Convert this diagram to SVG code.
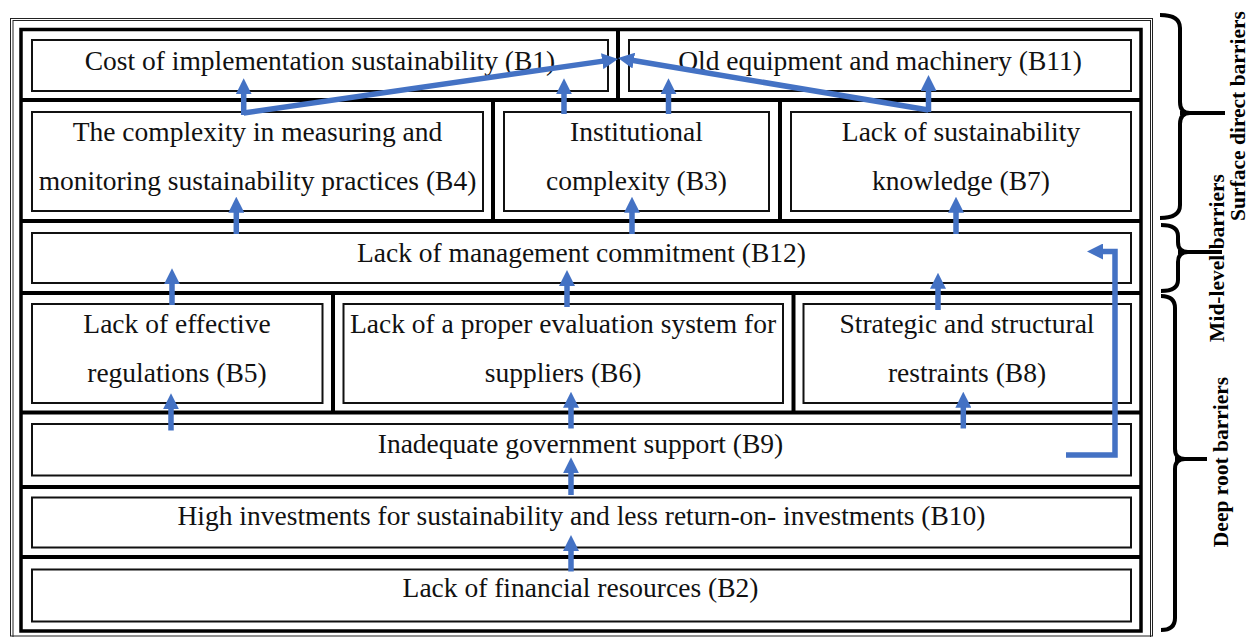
<svg xmlns="http://www.w3.org/2000/svg" width="1249" height="637" viewBox="0 0 1249 637">
  <style>
    .frame-thin { fill: none; stroke: #222; stroke-width: 1; }
    .frame-thick { fill: none; stroke: #000; stroke-width: 3.5; }
    .divider { stroke: #000; stroke-width: 4; }
    .box { fill: #fff; stroke: #111; stroke-width: 2; }
    .label { font-family: "Liberation Serif", "Times New Roman", serif; font-size: 27.5px; fill: #111; text-anchor: middle; }
    .tier { font-family: "Liberation Serif", "Times New Roman", serif; font-size: 21.5px; font-weight: bold; fill: #000; text-anchor: middle; }
    .brace { fill: none; stroke: #000; stroke-width: 4; stroke-linejoin: round; }
    .link { fill: none; stroke: #4472C4; stroke-width: 5.5; stroke-linejoin: miter; marker-end: url(#ah); }
  </style>
  <defs>
    <marker id="ah" markerUnits="userSpaceOnUse" markerWidth="16" markerHeight="16" viewBox="0 0 16 16" refX="8" refY="8" orient="auto">
      <path d="M0,0 L16,8 L0,16 z" fill="#4472C4"/>
    </marker>
  </defs>

  <rect width="1249" height="637" fill="#fff"/>

  <!-- outer double frame and heavy inner frame -->
  <g id="frame">
    <rect class="frame-thin" x="10.5" y="18.5" width="1142" height="617.5"/>
    <rect class="frame-thin" x="13" y="20.5" width="1137.5" height="620"/>
    <rect class="frame-thick" x="21" y="29.5" width="1120" height="601.5"/>
    <line class="divider" x1="21" y1="100" x2="1141" y2="100"/>
    <line class="divider" x1="21" y1="221" x2="1141" y2="221"/>
    <line class="divider" x1="21" y1="293" x2="1141" y2="293"/>
    <line class="divider" x1="21" y1="412.5" x2="1141" y2="412.5"/>
    <line class="divider" x1="21" y1="487" x2="1141" y2="487"/>
    <line class="divider" x1="21" y1="557" x2="1141" y2="557"/>
    <line class="divider" x1="618" y1="29.5" x2="618" y2="100"/>
    <line class="divider" x1="493" y1="100" x2="493" y2="221"/>
    <line class="divider" x1="780" y1="100" x2="780" y2="221"/>
    <line class="divider" x1="333" y1="293" x2="333" y2="412.5"/>
    <line class="divider" x1="793.5" y1="293" x2="793.5" y2="412.5"/>
  </g>

  <!-- barrier nodes -->
  <g id="B1">
    <rect class="box" x="32" y="40" width="576" height="51"/>
    <text class="label" x="320" y="70">Cost of implementation sustainability (B1)</text>
  </g>
  <g id="B11">
    <rect class="box" x="629" y="40" width="502" height="51"/>
    <text class="label" x="880" y="70">Old equipment and machinery (B11)</text>
  </g>
  <g id="B4">
    <rect class="box" x="32" y="112" width="451" height="99"/>
    <text class="label" x="257.5" y="141">The complexity in measuring and</text>
    <text class="label" x="257.5" y="189.5">monitoring sustainability practices (B4)</text>
  </g>
  <g id="B3">
    <rect class="box" x="504" y="112" width="265" height="99"/>
    <text class="label" x="636.5" y="141">Institutional</text>
    <text class="label" x="636.5" y="189.5">complexity (B3)</text>
  </g>
  <g id="B7">
    <rect class="box" x="791" y="112" width="340" height="99"/>
    <text class="label" x="961" y="141">Lack of sustainability</text>
    <text class="label" x="961" y="189.5">knowledge (B7)</text>
  </g>
  <g id="B12">
    <rect class="box" x="32" y="233" width="1099" height="50"/>
    <text class="label" x="581.5" y="262">Lack of management commitment (B12)</text>
  </g>
  <g id="B5">
    <rect class="box" x="32" y="304" width="290.5" height="99"/>
    <text class="label" x="177" y="333">Lack of effective</text>
    <text class="label" x="177" y="382">regulations (B5)</text>
  </g>
  <g id="B6">
    <rect class="box" x="343.5" y="304" width="439.5" height="99"/>
    <text class="label" x="563" y="333">Lack of a proper evaluation system for</text>
    <text class="label" x="563" y="382">suppliers (B6)</text>
  </g>
  <g id="B8">
    <rect class="box" x="803.5" y="304" width="327.5" height="99"/>
    <text class="label" x="967" y="333">Strategic and structural</text>
    <text class="label" x="967" y="382">restraints (B8)</text>
  </g>
  <g id="B9">
    <rect class="box" x="32" y="424" width="1099" height="51.5"/>
    <text class="label" x="580.5" y="453">Inadequate government support (B9)</text>
  </g>
  <g id="B10">
    <rect class="box" x="32" y="497.5" width="1099" height="50"/>
    <text class="label" x="581.5" y="525">High investments for sustainability and less return-on- investments (B10)</text>
  </g>
  <g id="B2">
    <rect class="box" x="32" y="569.5" width="1099" height="52"/>
    <text class="label" x="580.5" y="597">Lack of financial resources (B2)</text>
  </g>

  <!-- influence arrows -->
  <g id="connectors">
    <path class="link" d="M243.7,115 V86.3"/>
    <path class="link" d="M564,114 V86.3"/>
    <path class="link" d="M668.5,114 V86.3"/>
    <path class="link" d="M928.5,112 V83"/>
    <path class="link" d="M243.7,113 L610.1,60.1"/>
    <path class="link" d="M928.5,110 L625.9,59.3"/>
    <path class="link" d="M236.3,234 V204.7"/>
    <path class="link" d="M632,234 V204.7"/>
    <path class="link" d="M956,234 V204.7"/>
    <path class="link" d="M172,305 V276.3"/>
    <path class="link" d="M567,307 V278"/>
    <path class="link" d="M938,310 V280.7"/>
    <path class="link" d="M171,430.5 V401.3"/>
    <path class="link" d="M571,428.5 V399.7"/>
    <path class="link" d="M963.3,428.5 V399.7"/>
    <path class="link" d="M1066,455 H1115 V251.5 H1095"/>
    <path class="link" d="M571,495 V465.3"/>
    <path class="link" d="M571,571.5 V543"/>
  </g>

  <!-- tier braces -->
  <g id="tier-surface">
    <path class="brace" d="M1160,15 Q1180,15 1180,28 V102 Q1180,113 1190,113 Q1180,113 1180,124 V205 Q1180,218 1160,218"/>
    <line class="brace" x1="1180" y1="113" x2="1225" y2="113"/>
    <text class="tier" transform="translate(1245,116) rotate(-90)">Surface direct barriers</text>
  </g>
  <g id="tier-mid">
    <path class="brace" d="M1161,225 Q1178,225 1178,236 V242 Q1178,252 1188,252 Q1178,252 1178,262 V280 Q1178,291 1161,291"/>
    <line class="brace" x1="1178" y1="252" x2="1222" y2="252"/>
    <text class="tier" transform="translate(1223.5,258) rotate(-90)">Mid-level barriers</text>
  </g>
  <g id="tier-deep">
    <path class="brace" d="M1161,296 Q1175,296 1175,308 V449 Q1175,459 1185,459 Q1175,459 1175,469 V618 Q1175,630 1161,630"/>
    <line class="brace" x1="1175" y1="459" x2="1207" y2="459"/>
    <text class="tier" transform="translate(1228,462) rotate(-90)">Deep root barriers</text>
  </g>
</svg>
